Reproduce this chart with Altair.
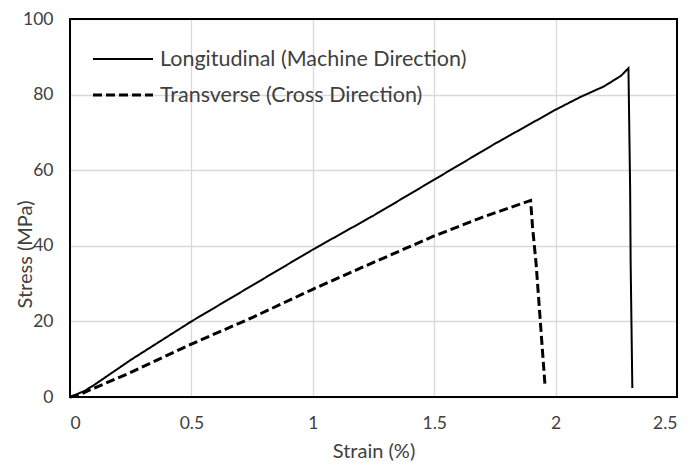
import altair as alt
import pandas as pd

# ---- data ----
series_names = ["Longitudinal (Machine Direction)", "Transverse (Cross Direction)"]

long_strain = [0, 0.03, 0.06, 0.10, 0.25, 0.50, 0.75, 1.00, 1.25, 1.50, 1.75, 2.00, 2.10, 2.20, 2.27, 2.30, 2.307, 2.309, 2.316]
long_stress = [0, 0.8, 1.6, 3.2, 9.8, 20.0, 29.5, 39.0, 48.0, 57.5, 67.0, 76.0, 79.3, 82.2, 85.0, 87.0, 55.0, 36.0, 2.4]

trans_strain = [0, 0.04, 0.08, 0.25, 0.50, 0.75, 1.00, 1.20, 1.50, 1.70, 1.897, 1.905, 1.92, 1.957]
trans_stress = [0, 0.6, 1.8, 6.5, 14.0, 21.0, 28.5, 34.2, 42.6, 47.6, 52.0, 45.0, 35.0, 2.5]

x_ticks = [0, 0.5, 1, 1.5, 2, 2.5]
y_ticks = [0, 20, 40, 60, 80, 100]

rows = []
for i, (s, v) in enumerate(zip(long_strain, long_stress)):
    rows.append({"series": series_names[0], "strain": s, "stress": v, "order": i})
for i, (s, v) in enumerate(zip(trans_strain, trans_stress)):
    rows.append({"series": series_names[1], "strain": s, "stress": v, "order": i})
df = pd.DataFrame(rows)

FONT = "Lato"
TEXT = "#404040"
W, H = 607, 378
PAD = {"left": 62, "top": 11, "right": 13, "bottom": 66}

dash_scale = alt.Scale(domain=series_names, range=[[1, 0], [9, 4]])
width_scale = alt.Scale(domain=series_names, range=[2, 3])

x_enc = alt.X(
    "strain:Q",
    scale=alt.Scale(domain=[x_ticks[0], x_ticks[-1]], nice=False, zero=False),
    axis=alt.Axis(
        values=x_ticks, format="~g", title="Strain (%)",
        titleX=W / 2, titleY=60, titleAlign="center", titleBaseline="alphabetic",
        labelPadding=17,
    ),
)
y_enc = alt.Y(
    "stress:Q",
    scale=alt.Scale(domain=[y_ticks[0], y_ticks[-1]], nice=False, zero=False),
    axis=alt.Axis(
        values=y_ticks, format="d", title="Stress (MPa)",
        titleX=-39, titleY=235, titleAngle=270, titleAlign="center", titleBaseline="alphabetic",
        labelPadding=17,
    ),
)

lines = alt.Chart(df).mark_line(color="black", interpolate="linear").encode(
    x=x_enc,
    y=y_enc,
    order="order:Q",
    detail="series:N",
    strokeDash=alt.StrokeDash("series:N", scale=dash_scale, legend=None),
    strokeWidth=alt.StrokeWidth("series:N", scale=width_scale, legend=None),
)

frame_df = pd.DataFrame({"x0": [x_ticks[0]], "x1": [x_ticks[-1]], "y0": [y_ticks[0]], "y1": [y_ticks[-1]]})
frame = alt.Chart(frame_df).mark_rect(filled=False, stroke="black", strokeWidth=2).encode(
    x="x0:Q", x2="x1:Q", y="y0:Q", y2="y1:Q"
)

legend_layers = []
for i, name in enumerate(series_names):
    ldf = pd.DataFrame({"series": [name]})
    ypos = 40 + 36 * i
    rule = alt.Chart(ldf).mark_rule(color="black").encode(
        x=alt.value(23), x2=alt.value(83), y=alt.value(ypos),
        strokeDash=alt.StrokeDash("series:N", scale=dash_scale, legend=None),
        strokeWidth=alt.StrokeWidth("series:N", scale=width_scale, legend=None),
    )
    txt = alt.Chart(ldf).mark_text(
        align="left", baseline="middle", font=FONT, fontSize=21.5, color=TEXT
    ).encode(x=alt.value(90), y=alt.value(ypos + 1), text="series:N")
    legend_layers += [rule, txt]

chart = alt.layer(lines, frame, *legend_layers).properties(
    width=W, height=H,
    background="white",
    autosize=alt.AutoSizeParams(type="none"),
    padding=PAD,
).configure_view(
    stroke=None
).configure_axis(
    domain=False, ticks=False, tickSize=0,
    grid=True, gridColor="#d9d9d9", gridWidth=1.3,
    labelFont=FONT, labelFontSize=17.5, labelColor=TEXT,
    titleFont=FONT, titleFontSize=20, titleFontWeight="normal", titleColor=TEXT,
)

chart.save("out.html", embed_options={"renderer": "svg", "actions": False})
